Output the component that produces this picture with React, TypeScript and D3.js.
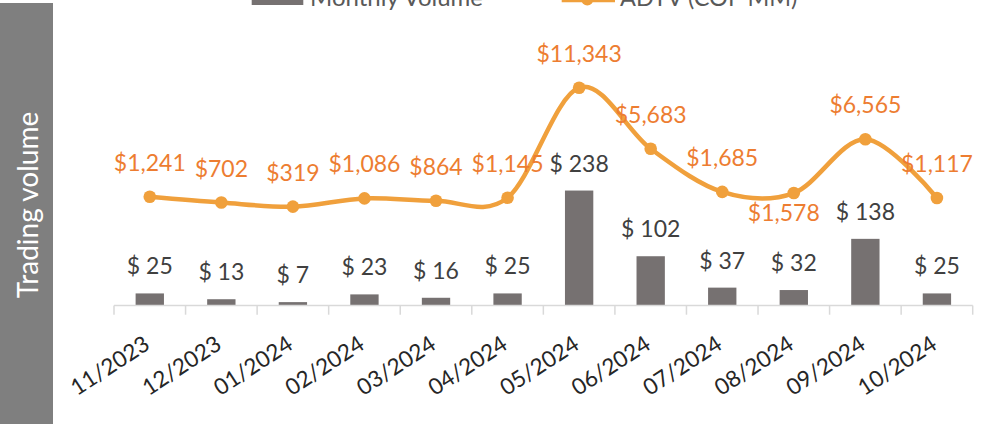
import React from "react";
import * as d3 from "d3";

const categories = ["11/2023","12/2023","01/2024","02/2024","03/2024","04/2024","05/2024","06/2024","07/2024","08/2024","09/2024","10/2024"];
const monthlyVolume = [25, 13, 7, 23, 16, 25, 238, 102, 37, 32, 138, 25];
const adtv = [1241, 702, 319, 1086, 864, 1145, 11343, 5683, 1685, 1578, 6565, 1117];
const seriesNames = ["Monthly Volume", "ADTV (COP MM)"];
const axisTitle = "Trading volume";

// label placement tweaks (layout only)
const adtvLabelShift: Record<number, [number, number]> = { 9: [-10, 54] };

const W = 981, H = 424;
const FONT = "Lato, 'Open Sans', sans-serif";

export default function App() {
  const x = d3.scaleBand<string>().domain(categories).range([114, 972.7]);
  const bw = x.bandwidth();
  const yBar = d3.scaleLinear().domain([0, 250]).range([305.5, 184.75]);
  const yLine = d3.scaleLinear().domain([0, 12000]).range([210.1, 80.6]);
  const cx = (c: string) => (x(c) as number) + bw / 2;

  const line = d3
    .line<number>()
    .x((_, i) => cx(categories[i]))
    .y((d) => yLine(d))
    .curve(d3.curveCatmullRom.alpha(0));

  const fmt = d3.format(",");
  const ticks = [...categories.map((c) => x(c) as number), 972.7];

  return (
    <svg
      width={W}
      height={H}
      style={{ position: "absolute", left: 0, top: 0, background: "#fff" }}
      fontFamily={FONT}
    >
      {/* Left title band */}
      <rect x={0} y={3} width={53} height={H - 3} fill="#7F7F7F" />
      <text
        transform={`translate(38,205) rotate(-90)`}
        textAnchor="middle"
        fontSize={28}
        fill="#FFFFFF"
      >
        {axisTitle}
      </text>

      {/* Legend */}
      <rect x={251.7} y={-7} width={51.6} height={12} fill="#767171" />
      <text x={310} y={6} fontSize={24} fill="#595959">{seriesNames[0]}</text>
      <line x1={561.7} x2={615} y1={0} y2={0} stroke="#F0A03C" strokeWidth={4.5} />
      <circle cx={587.3} cy={-0.5} r={6} fill="#F0A03C" />
      <text x={620} y={6} fontSize={23.5} fill="#595959">{seriesNames[1]}</text>

      {/* Bars */}
      {categories.map((c, i) => (
        <rect
          key={c}
          x={cx(c) - bw * 0.198}
          width={bw * 0.396}
          y={yBar(monthlyVolume[i])}
          height={yBar(0) - yBar(monthlyVolume[i])}
          fill="#767171"
        />
      ))}
      {categories.map((c, i) => (
        <text
          key={"bl" + c}
          x={cx(c)}
          y={yBar(monthlyVolume[i]) - 27}
          dy="0.35em"
          textAnchor="middle"
          fontSize={23}
          fill="#404040"
        >
          {"$ " + fmt(monthlyVolume[i])}
        </text>
      ))}

      {/* Axis */}
      <line x1={114} x2={972.7} y1={305.5} y2={305.5} stroke="#D9D9D9" strokeWidth={1.5} />
      {ticks.map((t, i) => (
        <line key={"t" + i} x1={t} x2={t} y1={305.5} y2={314.7} stroke="#D9D9D9" strokeWidth={1.5} />
      ))}
      {categories.map((c) => (
        <text
          key={"cl" + c}
          transform={`translate(${cx(c) + 1.5},348) rotate(-33)`}
          textAnchor="end"
          fontSize={22.5}
          fill="#262626"
        >
          {c}
        </text>
      ))}

      {/* Line */}
      <path d={line(adtv) || ""} fill="none" stroke="#F0A03C" strokeWidth={4.5} strokeLinecap="round" />
      {adtv.map((v, i) => (
        <circle key={"m" + i} cx={cx(categories[i])} cy={yLine(v)} r={6.3} fill="#F0A03C" />
      ))}
      {adtv.map((v, i) => {
        const s = adtvLabelShift[i] || [0, 0];
        return (
          <text
            key={"ll" + i}
            x={cx(categories[i]) + s[0]}
            y={yLine(v) - 34 + s[1]}
            dy="0.35em"
            textAnchor="middle"
            fontSize={23}
            fill="#ED7D31"
          >
            {"$" + fmt(v)}
          </text>
        );
      })}
    </svg>
  );
}
